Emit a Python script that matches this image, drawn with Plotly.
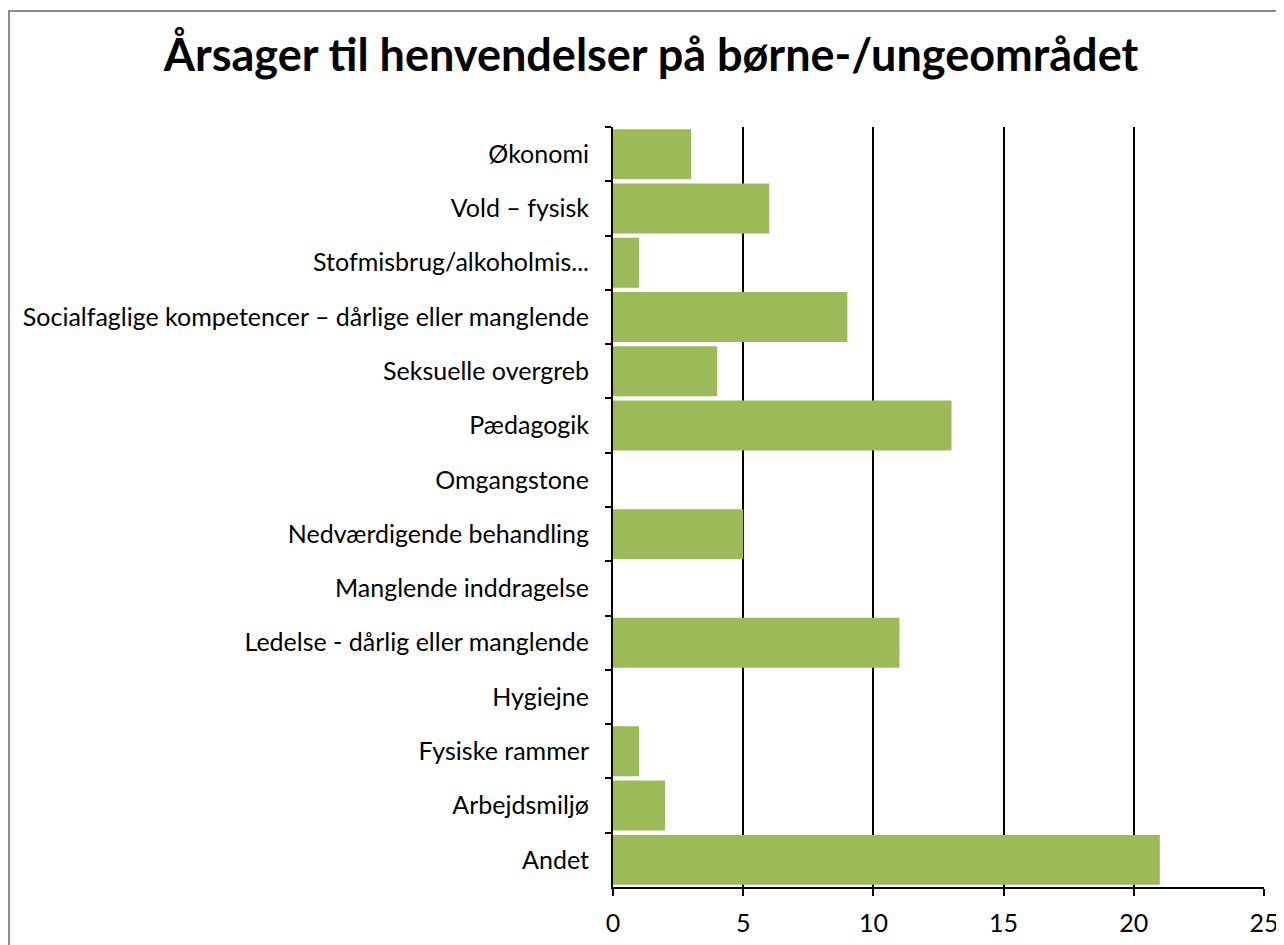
import plotly.graph_objects as go

categories = [
    "Økonomi",
    "Vold – fysisk",
    "Stofmisbrug/alkoholmis...",
    "Socialfaglige kompetencer – dårlige eller manglende",
    "Seksuelle overgreb",
    "Pædagogik",
    "Omgangstone",
    "Nedværdigende behandling",
    "Manglende inddragelse",
    "Ledelse - dårlig eller manglende",
    "Hygiejne",
    "Fysiske rammer",
    "Arbejdsmiljø",
    "Andet",
]
values = [3, 6, 1, 9, 4, 13, 0, 5, 0, 11, 0, 1, 2, 21]
x_ticks = [0, 5, 10, 15, 20, 25]
title_text = "Årsager til henvendelser på børne-/ungeområdet"

# page body has an 8px default margin, so the figure is sized to fit the window
W, H = 1276, 937
L, R, T, B = 605, 20, 119, 58
pw, ph = W - L - R, H - T - B

fig = go.Figure(
    go.Bar(
        x=values,
        y=categories,
        orientation="h",
        marker=dict(color="#9BBB59", line=dict(width=0)),
        hoverinfo="x+y",
    )
)

fig.update_layout(
    width=W,
    height=H,
    autosize=False,
    margin=dict(l=L, r=R, t=T, b=B, autoexpand=False),
    paper_bgcolor="white",
    plot_bgcolor="white",
    bargap=0.08,
    showlegend=False,
    font=dict(family="Lato, Carlito, sans-serif", size=25, color="black"),
    title=dict(
        text="<b>" + title_text + "</b>",
        x=643 / W,
        xref="container",
        xanchor="center",
        y=1 - 47 / H,
        yref="container",
        yanchor="middle",
        font=dict(family="Lato, sans-serif", size=45, color="black"),
    ),
    xaxis=dict(
        range=[0, 25],
        tickvals=x_ticks,
        ticktext=[str(v) for v in x_ticks],
        showgrid=True,
        gridcolor="black",
        gridwidth=2,
        showline=True,
        linecolor="black",
        linewidth=2,
        ticks="outside",
        ticklen=7,
        tickwidth=2,
        tickcolor="black",
        zeroline=False,
        ticklabelstandoff=6,
        tickfont=dict(size=25),
        automargin=False,
        fixedrange=True,
    ),
    yaxis=dict(
        categoryorder="array",
        categoryarray=categories,
        autorange="reversed",
        showgrid=False,
        showline=True,
        linecolor="black",
        linewidth=2,
        ticks="outside",
        tickson="boundaries",
        ticklen=6,
        tickwidth=2,
        tickcolor="black",
        ticklabelstandoff=17,
        tickfont=dict(size=25),
        automargin=False,
        fixedrange=True,
    ),
    shapes=[
        dict(
            type="rect",
            xref="paper",
            yref="paper",
            x0=(1 - L) / pw,
            x1=(W + 20 - L) / pw,
            y0=-(B + 20) / ph,
            y1=1 + (T - 3) / ph,
            line=dict(color="#8C8C8C", width=2),
            fillcolor="rgba(0,0,0,0)",
            layer="below",
        )
    ],
)

fig.write_html("out.html")
